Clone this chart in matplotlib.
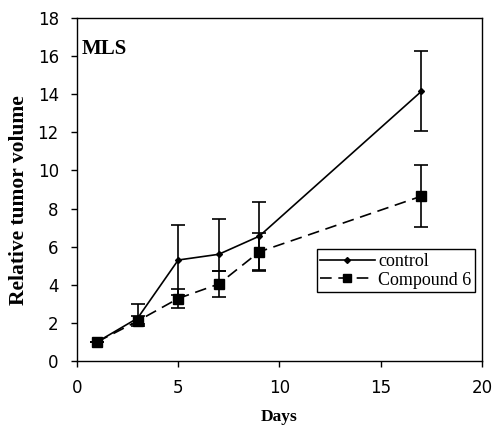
import matplotlib
matplotlib.use("Agg")
import matplotlib.pyplot as plt
from matplotlib.lines import Line2D

# values
days = [1, 3, 5, 7, 9, 17]
control = [1.0, 2.25, 5.3, 5.6, 6.55, 14.15]
control_err_lo = [0.0, 0.3, 1.85, 0.87, 1.78, 2.08]
control_err_hi = [0.0, 0.72, 1.85, 1.85, 1.77, 2.12]
compound = [1.0, 2.1, 3.28, 4.04, 5.73, 8.65]
compound_err = [0.0, 0.26, 0.5, 0.69, 1.0, 1.62]

x_ticks = [0, 5, 10, 15, 20]
y_ticks = [0, 2, 4, 6, 8, 10, 12, 14, 16, 18]

serif = ["Liberation Serif", "DejaVu Serif"]
dash = (0, (7, 4))

fig = plt.figure(figsize=(4.96, 4.26), dpi=100)
ax = fig.add_axes([0.155, 0.1526, 0.817, 0.805])

ax.errorbar(days, control, yerr=[control_err_lo, control_err_hi],
            color="black", lw=1.2, marker="D", markersize=3,
            capsize=5, elinewidth=1.2, capthick=1.2)
ax.errorbar(days, compound, yerr=compound_err,
            color="black", lw=1.2, ls=dash, marker="s", markersize=7,
            capsize=5, elinewidth=1.2, capthick=1.2)

ax.set_xlim(0, 20)
ax.set_ylim(0, 18)
ax.set_xticks(x_ticks)
ax.set_yticks(y_ticks)
ax.tick_params(direction="out", length=4, width=1, labelsize=12, pad=9)
for s in ax.spines.values():
    s.set_linewidth(1)

ax.text(0.012, 0.895, "MLS", transform=ax.transAxes, fontsize=15,
        fontweight="bold", family=serif)

ax.set_xlabel("Days", fontsize=12.5, fontweight="bold", family=serif)
ax.xaxis.set_label_coords(0.5, -0.14)
ax.set_ylabel("Relative tumor volume", fontsize=15.5, fontweight="bold",
              family=serif)
ax.yaxis.set_label_coords(-0.118, 0.468)

# legend shows line + marker only, no error bars
handles = [Line2D([], [], color="black", lw=1.2, marker="D", markersize=3),
           Line2D([], [], color="black", lw=1.2, ls=dash, marker="s", markersize=6)]
leg = ax.legend(handles, ["control", "Compound 6"], loc="lower right",
                bbox_to_anchor=(0.9825, 0.2), frameon=True,
                fancybox=False, edgecolor="black", framealpha=1,
                prop={"family": serif, "size": 13}, handlelength=3,
                borderpad=0.2, labelspacing=0.1, handletextpad=0.2,
                borderaxespad=0)
leg.get_frame().set_linewidth(1)

fig.savefig("out.png", dpi=100)
